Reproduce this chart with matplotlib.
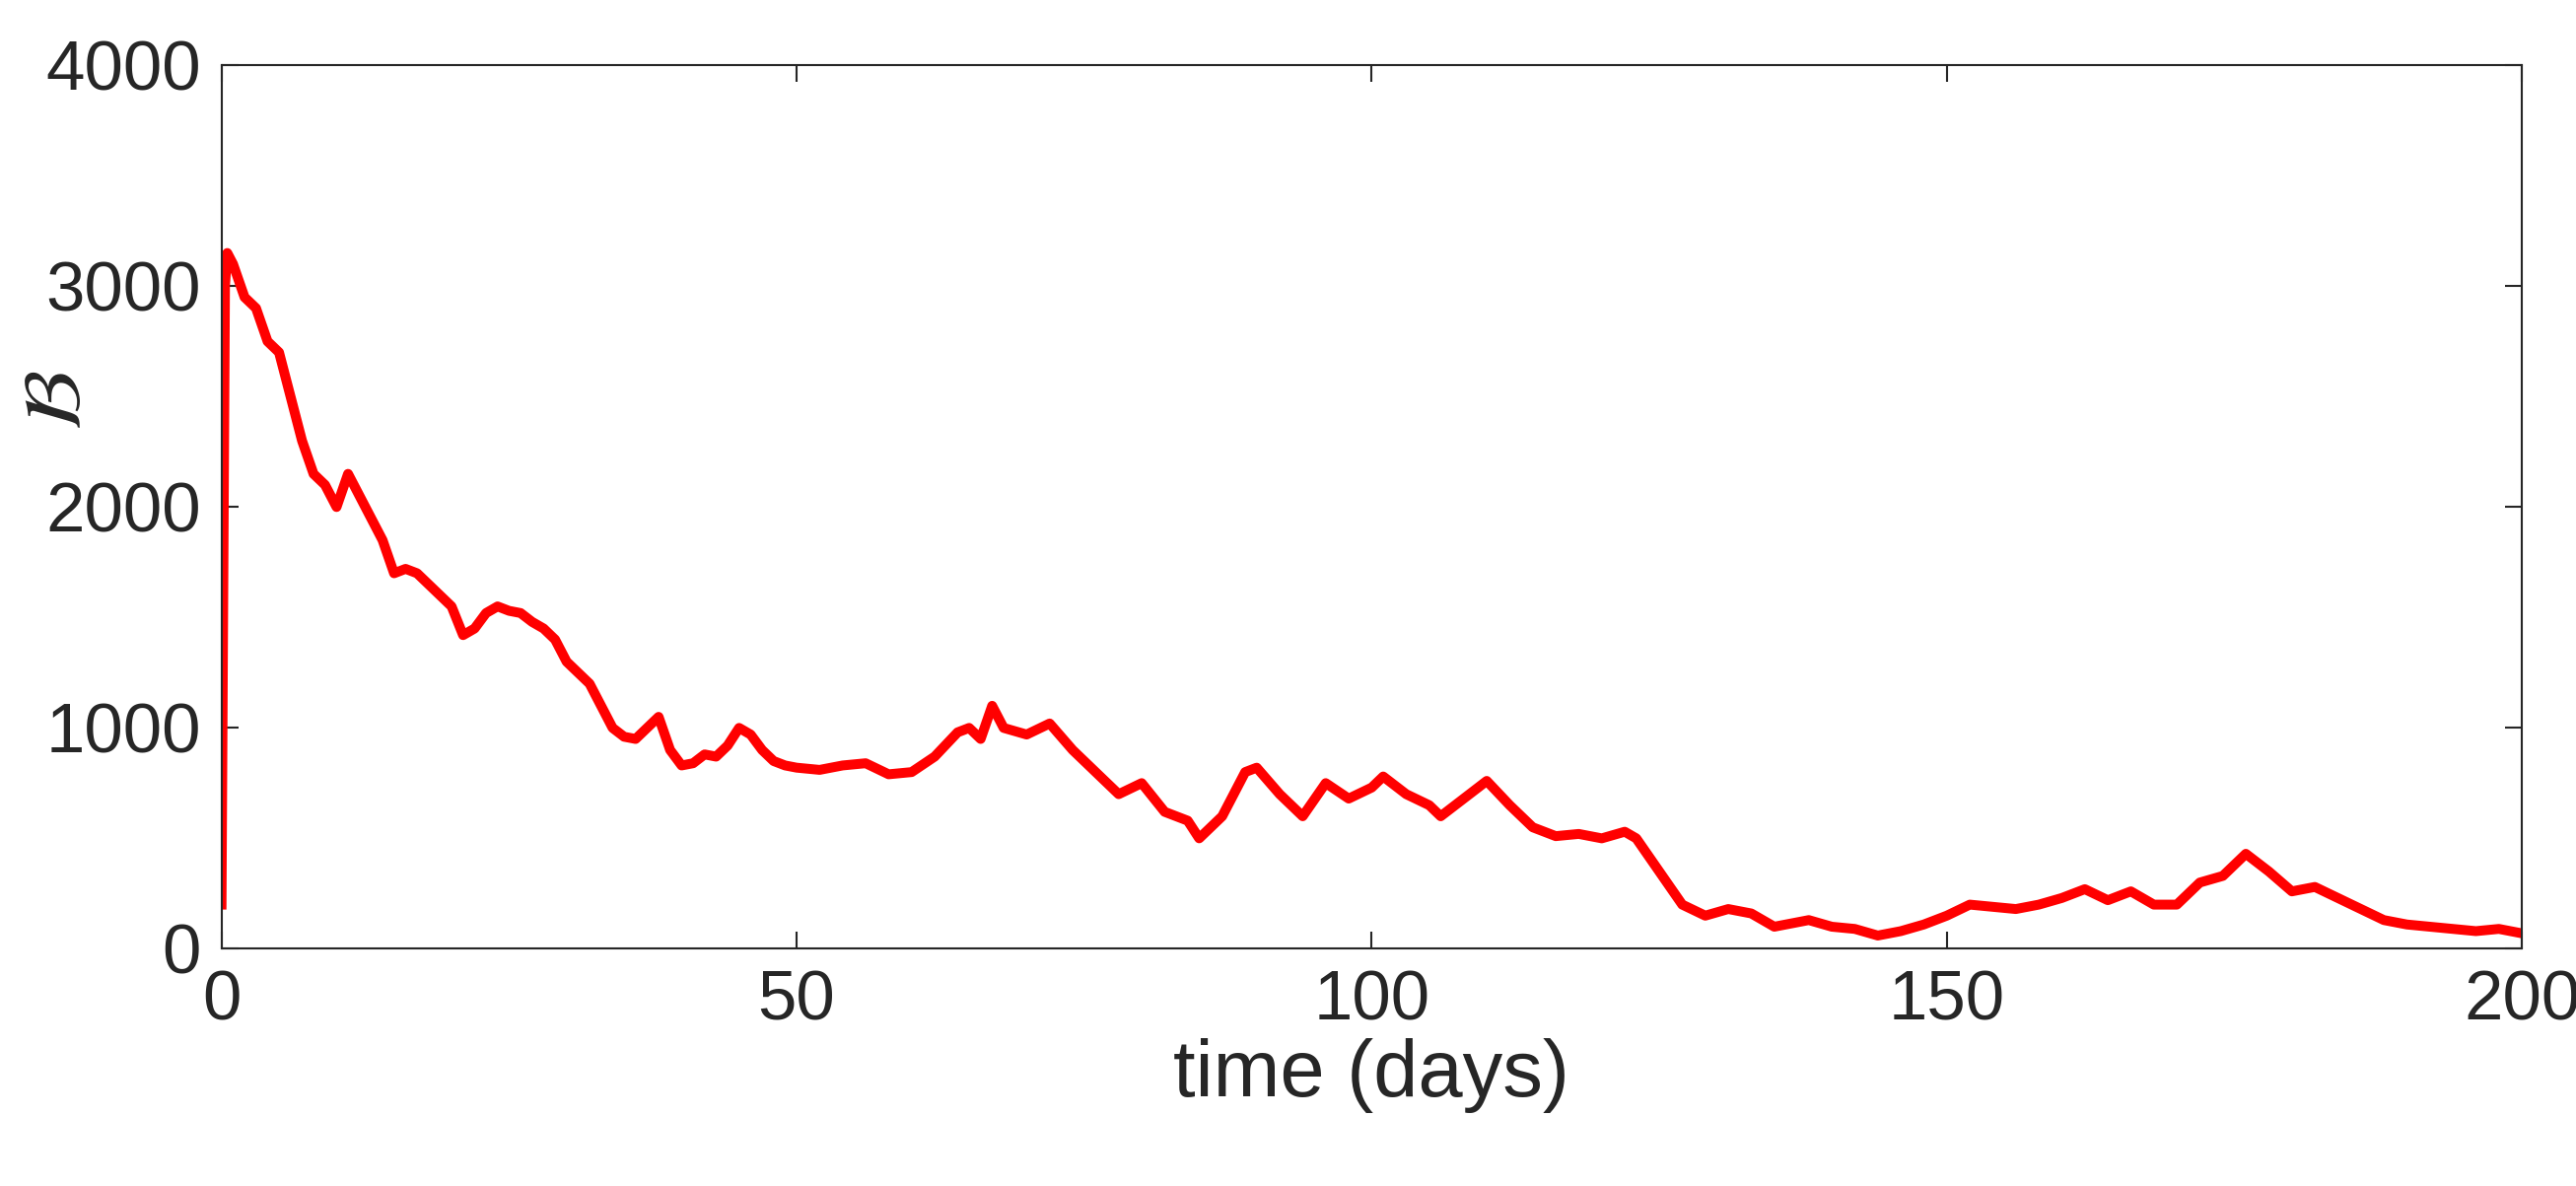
import matplotlib
matplotlib.use("Agg")
import matplotlib.pyplot as plt

# values (time in days, B)
t = [0, 0.3, 0.5, 1, 2, 3, 4, 5, 6, 7, 8, 9, 10, 11, 12, 13, 14, 15, 16, 17, 18, 19,
     20, 21, 22, 23, 24, 25, 26, 27, 28, 29, 30, 31, 32, 33, 34, 35, 36, 37, 38, 39,
     40, 41, 42, 43, 44, 45, 46, 47, 48, 49, 50, 52, 54, 56, 58, 60, 62, 64, 65, 66,
     67, 68, 70, 72, 74, 76, 78, 80, 82, 84, 85, 87, 89, 90, 92, 94, 96, 98, 100, 101,
     103, 105, 106, 108, 110, 112, 114, 116, 118, 120, 122, 123, 125, 127, 129, 131,
     133, 135, 138, 140, 142, 144, 146, 148, 150, 152, 154, 156, 158, 160, 162, 164,
     166, 168, 170, 172, 174, 176, 178, 180, 182, 184, 186, 188, 190, 192, 194, 196,
     198, 200]
B = [200, 3000, 3150, 3100, 2950, 2900, 2750, 2700, 2500, 2300, 2150, 2100, 2000, 2150,
     2050, 1950, 1850, 1700, 1720, 1700, 1650, 1600, 1550, 1420, 1450, 1520, 1550, 1530,
     1520, 1480, 1450, 1400, 1300, 1250, 1200, 1100, 1000, 960, 950, 1000, 1050, 900,
     830, 840, 880, 870, 920, 1000, 970, 900, 850, 830, 820, 810, 830, 840, 790, 800,
     870, 980, 1000, 950, 1100, 1000, 970, 1020, 900, 800, 700, 750, 620, 580, 500, 600,
     800, 820, 700, 600, 750, 680, 730, 780, 700, 650, 600, 680, 760, 650, 550, 510, 520,
     500, 530, 500, 350, 200, 150, 180, 160, 100, 130, 100, 90, 60, 80, 110, 150, 200,
     190, 180, 200, 230, 270, 220, 260, 200, 200, 300, 330, 430, 350, 260, 280, 230, 180,
     130, 110, 100, 90, 80, 90, 70]

plt.rcParams['font.family'] = ['Liberation Sans', 'DejaVu Sans']
fig = plt.figure(figsize=(8.71, 4.01), dpi=300)
ax = fig.add_axes([0.086, 0.2, 0.893, 0.745])
ax.plot(t, B, color='red', linewidth=2.4)
ax.set_xlim(0, 200)
ax.set_ylim(0, 4000)
ax.set_xticks([0, 50, 100, 150, 200])
ax.set_yticks([0, 1000, 2000, 3000, 4000])
ax.tick_params(direction='in', top=True, right=True, labelsize=17, colors='#262626',
               width=0.5, length=4, pad=5)
for s in ax.spines.values():
    s.set_linewidth(0.5)
    s.set_color('#262626')
ax.set_xlabel('time (days)', fontsize=19.5, color='#262626', labelpad=1)
ax.set_ylabel(r'$\mathcal{B}$', fontsize=20, color='#262626')
ax.yaxis.set_label_coords(-0.054, 0.62)
fig.savefig('out.png', dpi=300)
